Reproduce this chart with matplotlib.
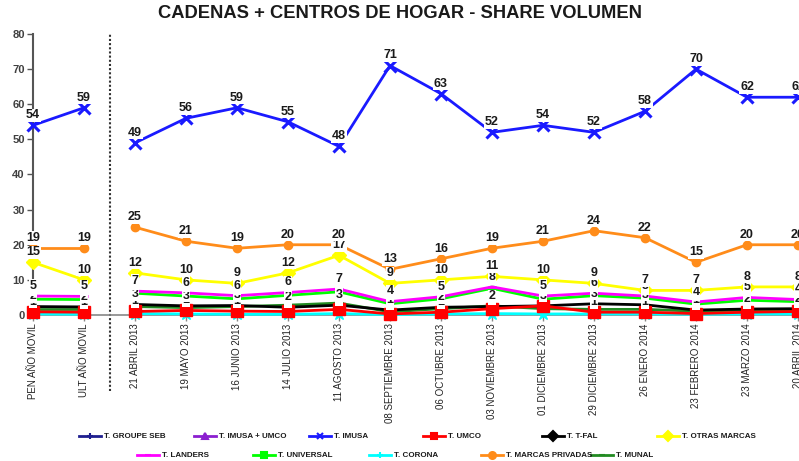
import numpy as np
import matplotlib.pyplot as plt
from matplotlib.lines import Line2D

categories = ['PEN AÑO MOVIL', 'ULT AÑO MOVIL', '21 ABRIL 2013', '19 MAYO 2013',
              '16 JUNIO 2013', '14 JULIO 2013', '11 AGOSTO 2013', '08 SEPTIEMBRE 2013',
              '06 OCTUBRE 2013', '03 NOVIEMBRE 2013', '01 DICIEMBRE 2013',
              '29 DICIEMBRE 2013', '26 ENERO 2014', '23 FEBRERO 2014', '23 MARZO 2014',
              '20 ABRIL 2014']

imusa = [54, 59, 49, 56, 59, 55, 48, 71, 63, 52, 54, 52, 58, 70, 62, 62]
marcas_privadas = [19, 19, 25, 21, 19, 20, 20, 13, 16, 19, 21, 24, 22, 15, 20, 20]
otras_marcas = [15, 10, 12, 10, 9, 12, 17, 9, 10, 11, 10, 9, 7, 7, 8, 8]
landers = [5.4, 5.3, 6.8, 6.3, 5.5, 6.4, 7.4, 3.8, 5.2, 8.0, 5.4, 6.2, 5.4, 3.7, 5.0, 4.4]
universal = [4.5, 4.4, 6.2, 5.4, 4.6, 5.6, 6.6, 3.2, 4.6, 7.6, 4.5, 5.5, 4.8, 3.1, 4.2, 3.8]
t_fal = [2.4, 2.3, 3.0, 2.6, 2.7, 2.2, 2.8, 1.4, 2.2, 2.4, 2.6, 3.2, 2.9, 1.4, 1.7, 1.8]
munal = [1.8, 1.8, 2.4, 2.1, 2.4, 2.8, 3.4, 0.9, 1.8, 2.6, 1.8, 1.6, 1.6, 1.1, 1.4, 1.5]
umco = [0.9, 0.8, 1.0, 1.3, 1.1, 1.0, 1.6, 0.3, 0.8, 1.8, 2.6, 0.8, 0.8, 0.4, 0.8, 1.0]
corona = [0.3, 0.2, 0.4, 0.3, 0.2, 0.2, 0.4, 0.1, 0.3, 0.4, 0.3, 0.3, 0.3, 0.2, 0.3, 0.3]
groupe_seb = []
imusa_umco = []

FONT = ['Liberation Sans', 'DejaVu Sans']

W, H = 799, 461
fig = plt.figure(figsize=(W / 100, H / 100), dpi=100)
ax = fig.add_axes([33 / W, 1 - 315 / H, (W - 33) / W, (315 - 34) / H])
ax.set_xlim(0, (W - 33) / 51)
ax.set_ylim(0, 80)

x = np.arange(len(categories))
segments = [slice(0, 2), slice(2, None)]

# (values, color, marker, size, edge width, labelled, z)
series = [
    (corona, '#00FFFF', '*', 9, 1, False, 3),
    (umco, '#FF0000', 's', 8, 1, True, 4),
    (munal, '#228B22', '_', 6, 2, False, 3),
    (t_fal, '#000000', 'D', 3, 1, True, 3),
    (universal, '#00FF00', 's', 3, 1, True, 3),
    (landers, '#FF00FF', '_', 6, 2, True, 3),
    (otras_marcas, '#FFFF00', 'D', 7, 1, True, 3),
    (marcas_privadas, '#FF8C1A', 'o', 6, 1, True, 3),
    (imusa, '#1A1AFF', 'x', 9, 2.2, True, 3),
]

for vals, color, marker, ms, mew, labelled, z in series:
    vals = np.array(vals, dtype=float)
    for seg in segments:
        ax.plot(x[seg], vals[seg], color=color, lw=2, marker=marker, ms=ms,
                mew=mew, mec=color, mfc=color, zorder=z, clip_on=False)

label_z = 6
for vals, color, marker, ms, mew, labelled, z in series:
    if not labelled:
        continue
    for xi, v in zip(x, vals):
        ax.annotate(f'{v:.0f}', (xi, v), xytext=(0, 3), textcoords='offset points',
                    ha='center', va='bottom', fontsize=9, fontweight='bold',
                    family=FONT, color='#1a1a1a', zorder=label_z, annotation_clip=False,
                    bbox=dict(boxstyle='square,pad=0.05', fc='white', ec='none'))
    label_z += 1

# separator between moving-year and period data
ax.axvline(1.5, ymin=-0.27, ymax=1.0, color='#333333', ls=(0, (1, 1)), lw=1.5,
           clip_on=False, zorder=2)

for s in ['top', 'right']:
    ax.spines[s].set_visible(False)
ax.spines['left'].set_color('#555555')
ax.spines['left'].set_linewidth(1.5)
ax.spines['bottom'].set_color('#888888')
ax.spines['bottom'].set_linewidth(1.2)

ax.set_yticks(range(0, 81, 10))
ax.tick_params(axis='y', length=4, width=1, colors='#555555', pad=2)
for t in ax.get_yticklabels():
    t.set_fontsize(8)
    t.set_fontweight('bold')
    t.set_family(FONT)
    t.set_color('#404040')

ax.set_xticks(x)
ax.set_xticklabels(categories, rotation=90, fontsize=7, family=FONT)
ax.tick_params(axis='x', length=4, width=1, colors='#888888', pad=2)
for t in ax.get_xticklabels():
    t.set_color('#222222')

fig.text(0.5, 1 - 13 / H, 'CADENAS + CENTROS DE HOGAR - SHARE VOLUMEN', ha='center',
         va='center', fontsize=13.2, fontweight='bold', family=FONT, color='#1a1a1a')

# legend drawn entry by entry to keep the original spacing
legend_rows = [
    (436, [('T. GROUPE SEB', '#1F1F8F', '+', 90), ('T. IMUSA + UMCO', '#8B1FCF', '^', 205),
           ('T. IMUSA', '#1A1AFF', 'x', 320), ('T. UMCO', '#FF0000', 's', 434),
           ('T. T-FAL', '#000000', 'D', 553), ('T. OTRAS MARCAS', '#FFFF00', 'D', 668)]),
    (455, [('T. LANDERS', '#FF00FF', '_', 148), ('T. UNIVERSAL', '#00FF00', 's', 264),
           ('T. CORONA', '#00FFFF', '+', 380), ('T. MARCAS PRIVADAS', '#FF8C1A', 'o', 492),
           ('T. MUNAL', '#228B22', '_', 602)]),
]
for ypx, entries in legend_rows:
    yf = 1 - ypx / H
    for name, color, marker, xpx in entries:
        fig.add_artist(Line2D([(xpx - 11) / W, (xpx + 11) / W], [yf, yf], color=color, lw=2,
                              transform=fig.transFigure))
        fig.add_artist(Line2D([xpx / W], [yf], color=color, marker=marker, ms=5, mew=1.5,
                              transform=fig.transFigure))
        fig.text((xpx + 14) / W, yf, name, ha='left', va='center', fontsize=5.8,
                 fontweight='bold', family=FONT, color='#1a1a1a')

fig.savefig('out.png', dpi=100)
